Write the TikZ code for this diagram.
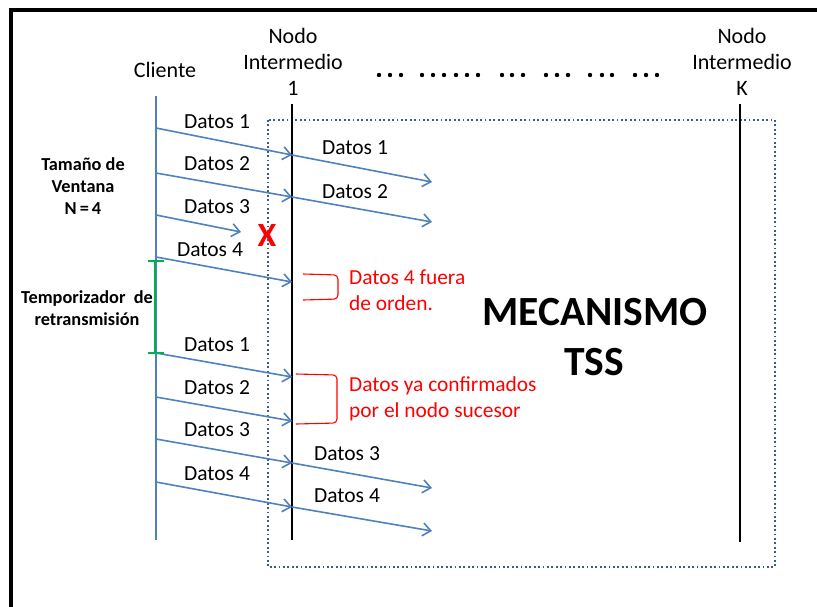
\documentclass[tikz,border=0pt]{standalone}
\usepackage{fontspec}
\setmainfont{Carlito}
\usetikzlibrary{arrows.meta}
\definecolor{msgblue}{RGB}{79,129,189}
\definecolor{boxblue}{RGB}{56,93,138}
\definecolor{notered}{RGB}{255,0,0}
\definecolor{timergreen}{RGB}{0,176,80}

\begin{document}
\begin{tikzpicture}[x=1pt,y=-1pt,
  lifeline/.style={line width=2.4pt,black},
  clientline/.style={line width=1.8pt,msgblue},
  msg/.style={msgblue,line width=1.6pt,
    -{Straight Barb[length=8pt,width=13pt,line width=1.6pt]}},
  msglabel/.style={font=\fontsize{21.5}{24}\selectfont,inner sep=0pt},
  header/.style={font=\fontsize{22}{26}\selectfont,align=center,inner sep=0pt},
  sidelabel/.style={font=\fontsize{18.3}{22}\selectfont\bfseries,align=center,inner sep=0pt},
  note/.style={font=\fontsize{21.4}{26}\selectfont,text=notered,align=left,inner sep=0pt,anchor=west},
  brace/.style={notered,line width=1.1pt,rounded corners=4pt},
  timer/.style={timergreen,line width=1.8pt},
  title/.style={font=\fontsize{41.5}{48}\selectfont\bfseries,inner sep=0pt},
  lossmark/.style={font=\fontsize{34}{36}\selectfont\bfseries,text=notered,inner sep=0pt},
  dotmark/.style={fill=black,draw=none}
]
\useasboundingbox (0,0) rectangle (817,606);

% frame
\draw[line width=3.5pt,line cap=rect] (11,606) -- (11,10) -- (817,10);

% region handled by the TSS mechanism
\draw[boxblue,line width=1.8pt,dash pattern=on 1.8pt off 2.6pt]
  (268,120) rectangle (775,567);

% lifeline headers
\node[header] (hcli) at (165,70) {Cliente};
\node[header] (hn1) at (293,62) {Nodo\\Intermedio\\1};
\node[header] (hnk) at (742,62) {Nodo\\Intermedio\\K};

% intermediate nodes left out
\foreach \x in {379,390,401,422,433,444,456,467,478,502,512,523,546,557,568,590,602,612,635,646,657}
  \fill[dotmark] (\x,75) circle (2.2pt);

% lifelines
\coordinate (cliTop) at (156,96);
\coordinate (cliBot) at (156,540);
\coordinate (n1Top) at (292,104);
\coordinate (n1Bot) at (292,540);
\coordinate (nkTop) at (740,104);
\coordinate (nkBot) at (740,542);
\draw[clientline] (cliTop) -- (cliBot);
\draw[lifeline] (n1Top) -- (n1Bot);
\draw[lifeline] (nkTop) -- (nkBot);

% first window
\coordinate (s1) at (156,128); \coordinate (r1) at (292,155); \coordinate (f1) at (432,182);
\coordinate (s2) at (156,173); \coordinate (r2) at (292,197); \coordinate (f2) at (432,222);
\coordinate (s3) at (156,215); \coordinate (r3) at (241,232);
\coordinate (s4) at (156,257); \coordinate (r4) at (292,282);
\draw[msg] (s1) -- (r1);
\draw[msg] (s2) -- (r2);
\draw[msg] (s3) -- (r3);
\draw[msg] (s4) -- (r4);
\draw[msg] (r1) -- (f1);
\draw[msg] (r2) -- (f2);
\node[msglabel] (l1) at (217,122) {Datos 1};
\node[msglabel] (l2) at (217,164) {Datos 2};
\node[msglabel] (l3) at (217,207) {Datos 3};
\node[msglabel] (l4) at (210,250) {Datos 4};
\node[msglabel] (m1) at (355,148) {Datos 1};
\node[msglabel] (m2) at (355,192) {Datos 2};
\node[lossmark] (lost) at (267,235) {X};

% retransmission
\coordinate (t1) at (156,353); \coordinate (u1) at (292,377);
\coordinate (t2) at (156,397); \coordinate (u2) at (292,421);
\coordinate (t3) at (156,439); \coordinate (u3) at (292,463); \coordinate (g3) at (432,488);
\coordinate (t4) at (156,482); \coordinate (u4) at (292,507); \coordinate (g4) at (432,531);
\draw[msg] (t1) -- (u1);
\draw[msg] (t2) -- (u2);
\draw[msg] (t3) -- (u3);
\draw[msg] (t4) -- (u4);
\draw[msg] (u3) -- (g3);
\draw[msg] (u4) -- (g4);
\node[msglabel] (k1) at (217,345) {Datos 1};
\node[msglabel] (k2) at (217,388) {Datos 2};
\node[msglabel] (k3) at (217,430) {Datos 3};
\node[msglabel] (k4) at (217,474) {Datos 4};
\node[msglabel] (p3) at (347,454) {Datos 3};
\node[msglabel] (p4) at (347,496) {Datos 4};

% retransmission timer
\coordinate (tmA) at (155,261);
\coordinate (tmB) at (155,353);
\draw[timer] (tmA) -- (tmB);
\draw[timer] ([xshift=-7pt]tmA) -- ([xshift=9pt]tmA);
\draw[timer] ([xshift=-7pt]tmB) -- ([xshift=9pt]tmB);

% side labels
\node[sidelabel] (win) at (83,186) {Tamaño de\\Ventana\\N\,=\,4};
\node[sidelabel] (tmr) at (87,308) {Temporizador\ \ de\\retransmisión};

% notes at the first intermediate node
\draw[brace] (303,274) -- (338,275) -- (338,299) -- (303,300);
\node[note] (n4) at (349,290) {Datos 4 fuera\\de orden.};
\draw[brace] (296,374) -- (337,375) -- (337,423) -- (296,424);
\node[note] (nc) at (349,399) {Datos ya confirmados\\por el nodo sucesor};

% mechanism title
\node[title] (mec) at (595,312) {MECANISMO};
\node[title] (tss) at (594,362) {TSS};
\end{tikzpicture}
\end{document}
